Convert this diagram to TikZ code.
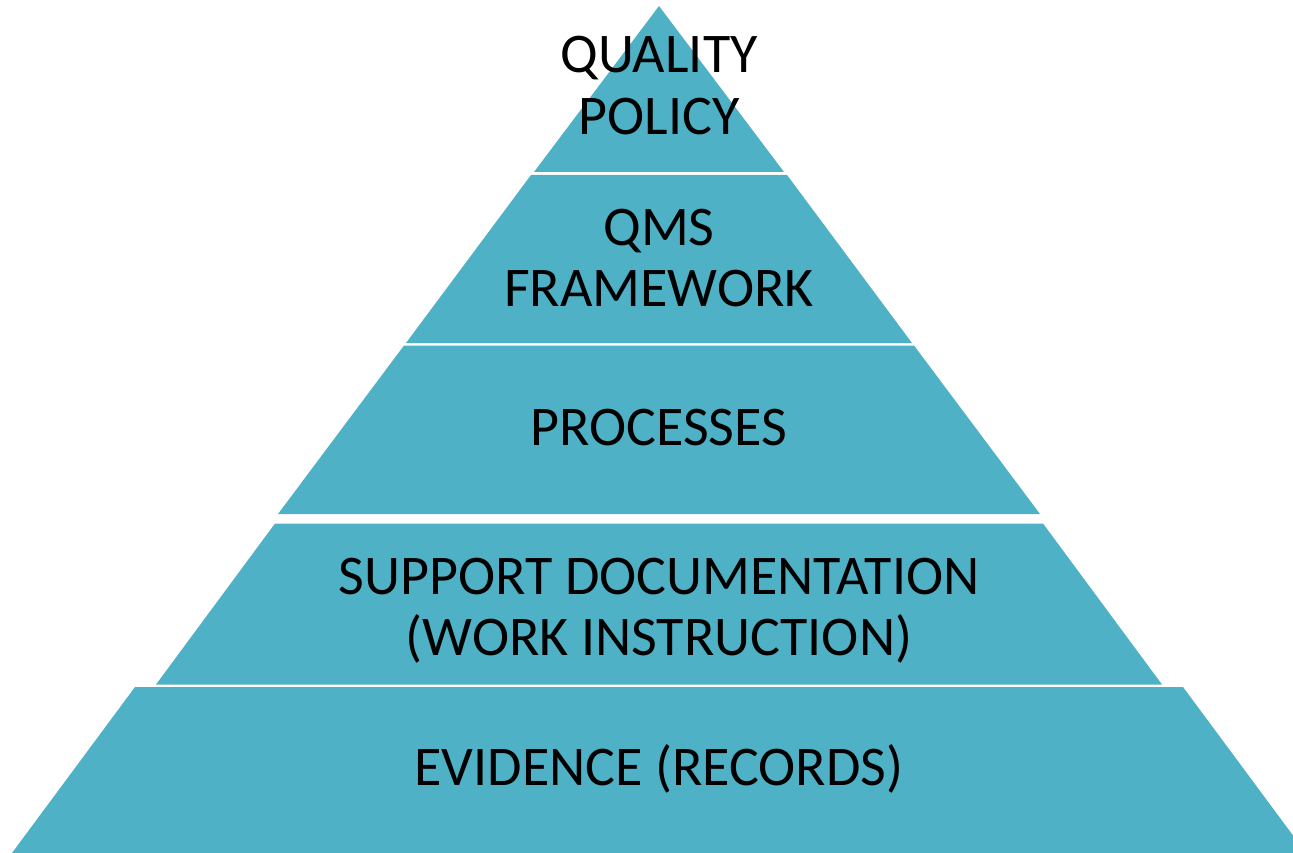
\documentclass[tikz,border=0pt]{standalone}
\usepackage{fontspec}
\setmainfont{Carlito}
\definecolor{band}{HTML}{4FB1C6}
\begin{document}
\begin{tikzpicture}[x=1pt,y=-1pt,
  bandfill/.style={fill=band,draw=none},
  lbl/.style={anchor=base,inner sep=0pt,text=black,font=\fontsize{56}{61}\selectfont}]
\useasboundingbox (0,0) rectangle (1293,853);
\begin{scope}
\clip (0,0) rectangle (1293,853);
\fill[bandfill] (659,6) -- (784,172) -- (534,172) -- cycle;
\fill[bandfill] (531,175) -- (787,175) -- (912,343) -- (406,343) -- cycle;
\fill[bandfill] (404,345.5) -- (914,345.5) -- (1040,514) -- (278,514) -- cycle;
\fill[bandfill] (275,523.5) -- (1043,523.5) -- (1162,684.5) -- (156,684.5) -- cycle;
\fill[bandfill] (135,687) -- (1183,687) -- (1306,853) -- (12,853) -- cycle;
\end{scope}
\node[lbl] (q1) at (659,73) {QUALITY};
\node[lbl] (q2) at (659,135) {POLICY};
\node[lbl] (m1) at (659,245) {QMS};
\node[lbl] (m2) at (659,306) {FRAMEWORK};
\node[lbl] (p1) at (659,445) {PROCESSES};
\node[lbl] (s1) at (659,594) {SUPPORT DOCUMENTATION};
\node[lbl] (s2) at (659,655) {(WORK INSTRUCTION)};
\node[lbl] (e1) at (659,785) {EVIDENCE (RECORDS)};
\end{tikzpicture}
\end{document}
